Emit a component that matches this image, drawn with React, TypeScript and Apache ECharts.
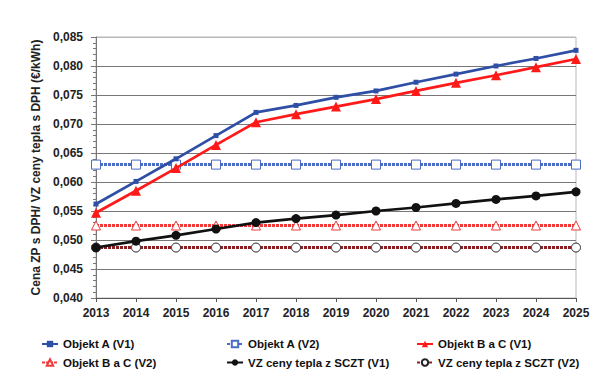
import React, { useEffect, useRef } from "react";
import * as echarts from "echarts";

const years = ["2013","2014","2015","2016","2017","2018","2019","2020","2021","2022","2023","2024","2025"];
const objektAV1 = [0.0562,0.0601,0.0640,0.0680,0.0720,0.0732,0.0746,0.0757,0.0772,0.0786,0.0800,0.0813,0.0827];
const objektAV2 = [0.0630,0.0630,0.0630,0.0630,0.0630,0.0630,0.0630,0.0630,0.0630,0.0630,0.0630,0.0630,0.0630];
const objektBCV1 = [0.0547,0.0585,0.0624,0.0664,0.0703,0.0717,0.0730,0.0743,0.0757,0.0771,0.0784,0.0798,0.0812];
const objektBCV2 = [0.0525,0.0525,0.0525,0.0525,0.0525,0.0525,0.0525,0.0525,0.0525,0.0525,0.0525,0.0525,0.0525];
const scztV1 = [0.0487,0.0498,0.0508,0.0519,0.0530,0.0537,0.0543,0.0550,0.0556,0.0563,0.0570,0.0576,0.0583];
const scztV2 = [0.0487,0.0487,0.0487,0.0487,0.0487,0.0487,0.0487,0.0487,0.0487,0.0487,0.0487,0.0487,0.0487];

const FONT = "'Liberation Sans', Arial, sans-serif";
const BLUE = "#2f4fa6";
const BLUE2 = "#4a6cc4";
const RED = "#ff1a1a";
const RED2 = "#f03a3a";
const MAROON = "#8a1f24";

export default function App() {
  const ref = useRef<HTMLDivElement>(null);
  useEffect(() => {
    if (!ref.current) return;
    const chart = echarts.init(ref.current, null, { renderer: "svg" });
    const legendText = { fontFamily: FONT, fontSize: 11.5, fontWeight: "bold", color: "#111" };
    const legendBase = {
      orient: "vertical",
      top: 338,
      itemWidth: 16,
      itemHeight: 8,
      itemGap: 6.5,
      textStyle: legendText,
      padding: 0,
    };
    chart.setOption({
      animation: false,
      backgroundColor: "#fff",
      grid: { left: 96, right: 24, top: 37, bottom: 82, show: true, borderColor: "#b8b8b8", borderWidth: 1 },
      legend: [
        { ...legendBase, left: 41, data: ["Objekt A (V1)", "Objekt B a C (V2)"] },
        { ...legendBase, left: 226, data: ["Objekt A (V2)", "VZ ceny tepla z SCZT (V1)"] },
        { ...legendBase, left: 416, data: ["Objekt B a C (V1)", "VZ ceny tepla z SCZT (V2)"] },
      ],
      xAxis: {
        type: "category",
        data: years,
        boundaryGap: false,
        axisLine: { lineStyle: { color: "#555", width: 1 } },
        axisTick: { show: true, length: 4, lineStyle: { color: "#555" } },
        axisLabel: { fontFamily: FONT, fontSize: 12, fontWeight: "bold", color: "#222", margin: 9 },
        splitLine: { show: false },
      },
      yAxis: {
        type: "value",
        min: 0.04,
        max: 0.085,
        interval: 0.005,
        name: "Cena ZP s DPH/ VZ ceny tepla s DPH (€/kWh)",
        nameLocation: "middle",
        nameGap: 54,
        nameTextStyle: { fontFamily: FONT, fontSize: 12, fontWeight: "bold", color: "#222" },
        axisLine: { show: true, lineStyle: { color: "#777" } },
        axisTick: { show: true, length: 5, lineStyle: { color: "#777" } },
        minorTick: { show: true, splitNumber: 5, length: 3, lineStyle: { color: "#777" } },
        axisLabel: {
          fontFamily: FONT, fontSize: 12, fontWeight: "bold", color: "#222", margin: 13,
          formatter: (v: number) => v.toFixed(3).replace(".", ","),
        },
        splitLine: { show: true, lineStyle: { color: ["#777","#777","#777","#777","#777","#777","#777","#777","#777","#b8b8b8"], width: 1 } },
      },
      series: [
        {
          name: "Objekt A (V1)", type: "line", data: objektAV1,
          symbol: "rect", symbolSize: 5, itemStyle: { color: BLUE },
          lineStyle: { color: BLUE, width: 2.7 }, z: 5,
        },
        {
          name: "Objekt A (V2)", type: "line", data: objektAV2,
          symbol: "rect", symbolSize: 9, showAllSymbol: true,
          itemStyle: { color: "#fff", borderColor: BLUE2, borderWidth: 1 },
          lineStyle: { color: BLUE2, width: 3, type: [3, 1] }, z: 3,
        },
        {
          name: "Objekt B a C (V1)", type: "line", data: objektBCV1,
          symbol: "triangle", symbolSize: 10, itemStyle: { color: RED },
          lineStyle: { color: RED, width: 2.7 }, z: 5,
        },
        {
          name: "Objekt B a C (V2)", type: "line", data: objektBCV2,
          symbol: "triangle", symbolSize: 9,
          itemStyle: { color: "#fff", borderColor: RED2, borderWidth: 1 },
          lineStyle: { color: RED2, width: 3, type: [3, 1] }, z: 3,
        },
        {
          name: "VZ ceny tepla z SCZT (V1)", type: "line", data: scztV1,
          symbol: "circle", symbolSize: 9, itemStyle: { color: "#111" },
          lineStyle: { color: "#111", width: 2.7 }, z: 5,
        },
        {
          name: "VZ ceny tepla z SCZT (V2)", type: "line", data: scztV2,
          symbol: "circle", symbolSize: 9,
          itemStyle: { color: "#fff", borderColor: "#222", borderWidth: 1 },
          lineStyle: { color: MAROON, width: 3, type: [3, 1] }, z: 3,
        },
      ],
    });
    return () => chart.dispose();
  }, []);
  return <div ref={ref} style={{ width: 600, height: 380, position: "absolute", left: 0, top: 0 }} />;
}
